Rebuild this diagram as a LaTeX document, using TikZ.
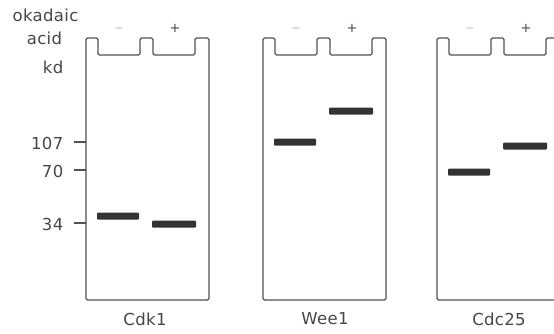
\documentclass[tikz,border=0pt]{standalone}
\usepackage{fontspec}
\setmainfont{DejaVu Sans}[LetterSpace=2]
\begin{document}
\begin{tikzpicture}[x=1pt,y=-1pt,
  gelline/.style={draw=black!68, line width=1.3pt, rounded corners=1.5pt},
  band/.style={fill=black!80, rounded corners=1pt},
  lbl/.style={text=black!72, font=\fontsize{16.5}{18}\selectfont, inner sep=0pt},
  tick/.style={draw=black!68, line width=1.2pt}]
\clip (0,0) rectangle (554,333);
\useasboundingbox (0,0) rectangle (554,333);
\fill[white] (0,0) rectangle (554,333);
% gels
\foreach \L/\nm in {86/g1, 263/g2, 437/g3}{
  \draw[gelline] (\L,300) -- (\L,38) -- (\L+12,38) -- (\L+12,55) -- (\L+54,55) -- (\L+54,38)
    -- (\L+67,38) -- (\L+67,55) -- (\L+109,55) -- (\L+109,38) -- (\L+123,38) -- (\L+123,300) -- cycle;
  \node[lbl, text=black!55] (\nm m) at (\L+33,28) {\fontsize{12}{14}\selectfont $-$};
  \node[lbl] (\nm p) at (\L+89,28) {\fontsize{13}{14}\selectfont +};
}
% bands
\foreach \L/\ym/\yp in {86/216/224, 263/142/111, 437/172/146}{
  \fill[band] (\L+11,\ym-3.5) rectangle (\L+53,\ym+3.5);
  \fill[band] (\L+66,\yp-3.5) rectangle (\L+110,\yp+3.5);
}
% left labels
\node[lbl] (oka) at (45.5,15) {okadaic};
\node[lbl] (acid) at (44.5,38) {acid};
\node[lbl, anchor=east] (kd) at (63.5,67) {kd};
\node[lbl, anchor=east] (m107) at (63.5,143) {107};
\node[lbl, anchor=east] (m70) at (63.5,171) {70};
\node[lbl, anchor=east] (m34) at (63.5,224) {34};
\coordinate (t107) at (86,142);
\coordinate (t70) at (86,170);
\coordinate (t34) at (86,223);
\draw[tick] (m107.east) ++(10,-1) -- (t107);
\draw[tick] (m70.east) ++(10,-1) -- (t70);
\draw[tick] (m34.east) ++(10,-1) -- (t34);
% bottom labels
\node[lbl] (cdk1) at (145,319) {Cdk1};
\node[lbl] (wee1) at (325,319) {Wee1};
\node[lbl] (cdc25) at (499,319) {Cdc25};
\end{tikzpicture}
\end{document}
